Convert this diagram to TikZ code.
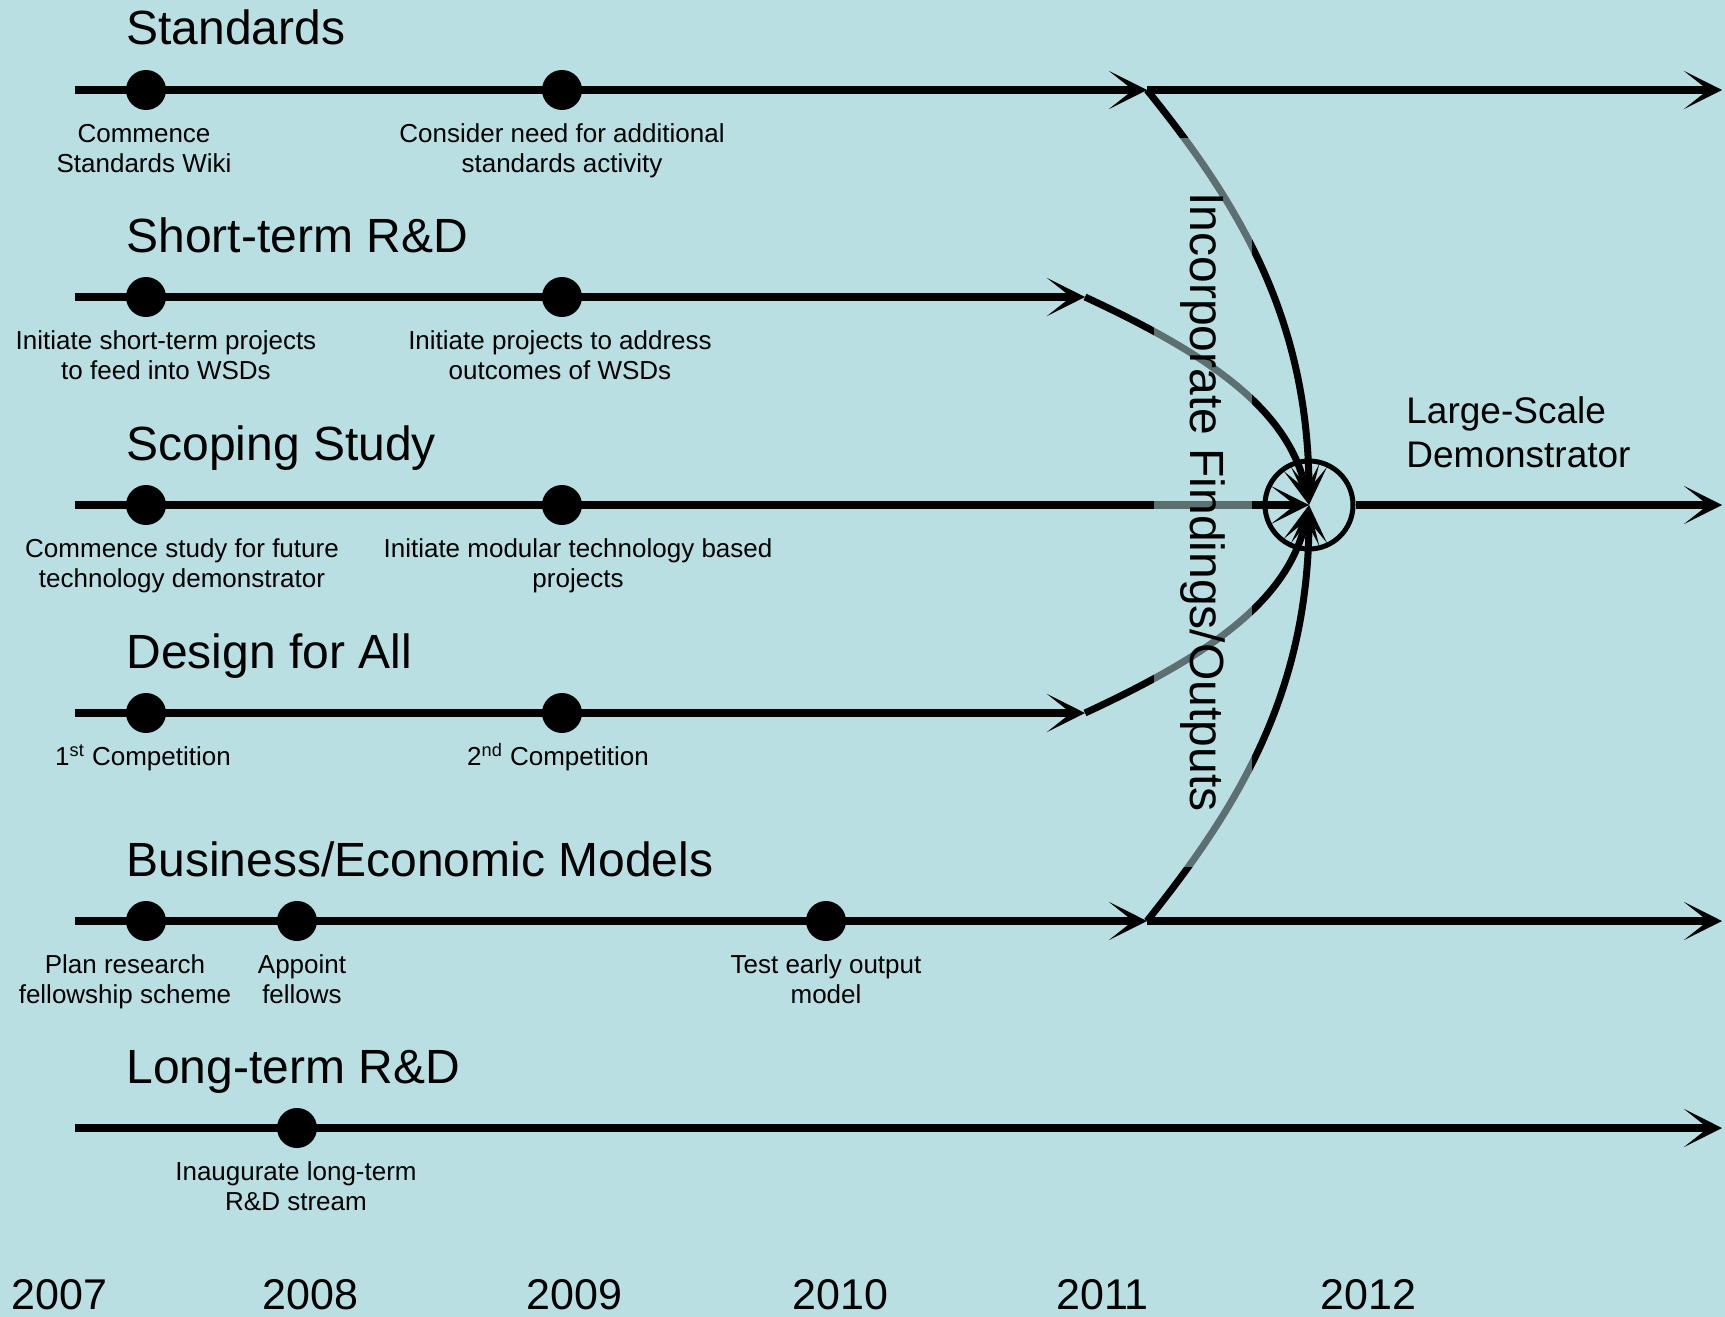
\documentclass[tikz,border=0pt]{standalone}
\usepackage{fontspec}
\setmainfont{Liberation Sans}
\usetikzlibrary{arrows.meta}
\definecolor{bg}{RGB}{185,223,227}
\begin{document}
\begin{tikzpicture}[x=0.5pt,y=-0.5pt,
  track/.style={line width=4pt, -{Stealth[length=19pt,width=19pt,inset=12pt]}},
  feed/.style={line width=3.5pt, -{Stealth[length=19pt,width=18pt,inset=11pt]}},
  dot/.style={circle, fill=black, inner sep=0pt, minimum size=20pt},
  title/.style={anchor=base west, inner sep=0pt, font=\fontsize{24}{28}\selectfont},
  lbl/.style={anchor=base, inner sep=0pt, align=center, font=\fontsize{13}{15}\selectfont},
  year/.style={anchor=base west, inner sep=0pt, font=\fontsize{21.5}{25}\selectfont},
  big/.style={anchor=base west, inner sep=0pt, align=left, font=\fontsize{18.5}{22}\selectfont},
  overlay box/.style={rotate=-90, fill=bg, fill opacity=0.5, text opacity=1, minimum width=364.5pt, minimum height=49pt, inner sep=0pt, font=\fontsize{24}{28}\selectfont},
  hubstyle/.style={circle, draw, line width=2.5pt, minimum size=44pt, inner sep=0pt}
]
\fill[bg] (0,0) rectangle (1725,1317);
\useasboundingbox (0,0) rectangle (1725,1317);

% coordinates
\coordinate (s0) at (75,90);   \coordinate (sm) at (1147,90);  \coordinate (se) at (1722,90);
\coordinate (r0) at (75,297);  \coordinate (rm) at (1085,297);
\coordinate (p0) at (75,505);  \coordinate (pe) at (1722,505);
\coordinate (d0) at (75,713);  \coordinate (dm) at (1085,713);
\coordinate (b0) at (75,921);  \coordinate (bm) at (1147,921); \coordinate (be) at (1722,921);
\coordinate (l0) at (75,1128); \coordinate (le) at (1722,1128);

\node[hubstyle] (hub) at (1309,505) {};

% curves into the hub
\draw[feed] (sm) .. controls (1240,205) and (1309,320) .. (hub.center);
\draw[feed] (rm) .. controls (1210,355) and (1290,410) .. (hub.center);
\draw[track] (p0) -- (hub.center);
\draw[feed] (dm) .. controls (1210,655) and (1290,600) .. (hub.center);
\draw[feed] (bm) .. controls (1240,805) and (1309,690) .. (hub.center);

% overlay label
\node[overlay box] (incorp) at (1203,502) {Incorporate Findings/Outputs};

% tracks
\draw[track] (s0) -- (sm);
\draw[track] (sm) -- (se);
\draw[track] (r0) -- (rm);
\draw[track] (hub.east) -- (pe);
\draw[track] (d0) -- (dm);
\draw[track] (b0) -- (bm);
\draw[track] (bm) -- (be);
\draw[track] (l0) -- (le);

% dots
\node[dot] (s1) at (146,90) {};
\node[dot] (s2) at (562,90) {};
\node[dot] (r1) at (146,297) {};
\node[dot] (r2) at (562,297) {};
\node[dot] (p1) at (146,505) {};
\node[dot] (p2) at (562,505) {};
\node[dot] (d1) at (146,713) {};
\node[dot] (d2) at (562,713) {};
\node[dot] (b1) at (146,921) {};
\node[dot] (b2) at (297,921) {};
\node[dot] (b3) at (826,921) {};
\node[dot] (l1) at (297,1128) {};

% titles
\node[title] (ts) at (126,45) {Standards};
\node[title] (tr) at (126,252) {Short-term R\&D};
\node[title] (tp) at (126,460) {Scoping Study};
\node[title] (td) at (126,668) {Design for All};
\node[title] (tb) at (126,876) {Business/Economic Models};
\node[title] (tl) at (126,1083) {Long-term R\&D};

% labels (base = last line)
\node[lbl] (ls1) at (144,172) {Commence\\Standards Wiki};
\node[lbl] (ls2) at (562,172) {Consider need for additional\\standards activity};
\node[lbl] (lr1) at (166,379) {Initiate short-term projects\\to feed into WSDs};
\node[lbl] (lr2) at (560,379) {Initiate projects to address\\outcomes of WSDs};
\node[lbl] (lp1) at (182,587) {Commence study for future\\technology demonstrator};
\node[lbl] (lp2) at (578,587) {Initiate modular technology based\\projects};
\node[lbl] (ld1) at (143,765) {1\textsuperscript{st} Competition};
\node[lbl] (ld2) at (558,765) {2\textsuperscript{nd} Competition};
\node[lbl] (lb1) at (125,1003) {Plan research\\fellowship scheme};
\node[lbl] (lb2) at (302,1003) {Appoint\\fellows};
\node[lbl] (lb3) at (826,1003) {Test early output\\model};
\node[lbl] (ll1) at (296,1210) {Inaugurate long-term\\R\&D stream};

% large-scale demonstrator
\node[big] (lsd) at (1406,467) {Large-Scale\\Demonstrator};

% years
\node[year] (y7) at (11,1309) {2007};
\node[year] (y8) at (262,1309) {2008};
\node[year] (y9) at (526,1309) {2009};
\node[year] (y10) at (792,1309) {2010};
\node[year] (y11) at (1056,1309) {2011};
\node[year] (y12) at (1320,1309) {2012};
\end{tikzpicture}
\end{document}
